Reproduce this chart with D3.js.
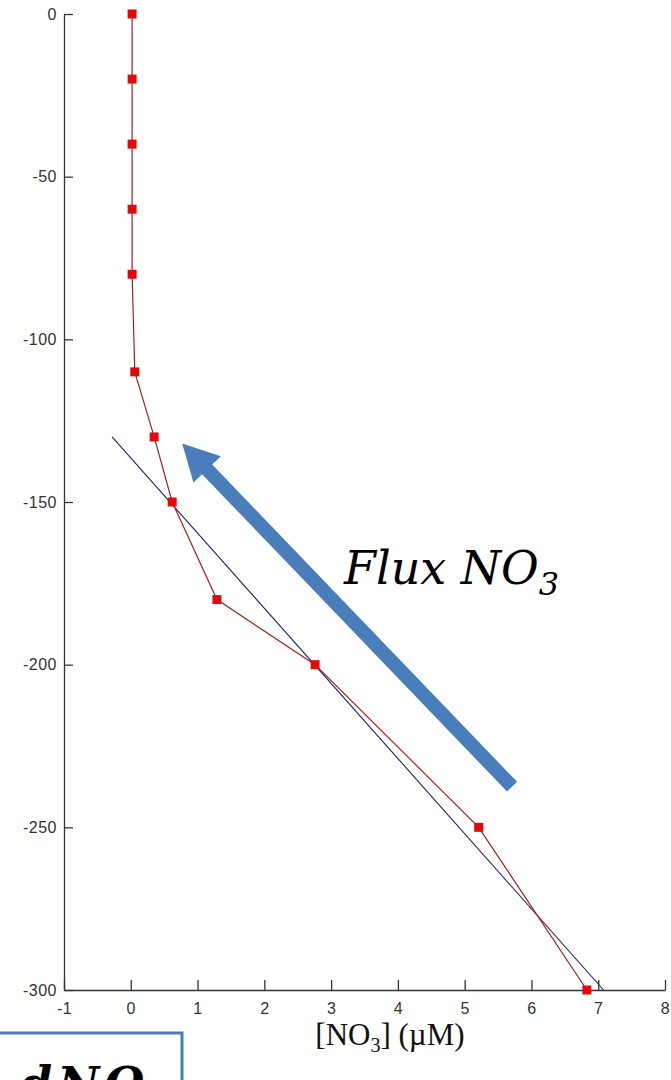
<!DOCTYPE html>
<html>
<head>
<meta charset="utf-8">
<script src="https://cdn.jsdelivr.net/npm/d3@7/dist/d3.min.js"></script>
<style>
  html, body { margin: 0; padding: 0; background: #fff; overflow: hidden; }
  svg { display: block; }
</style>
</head>
<body>
<svg id="chart" width="671" height="1080"></svg>
<script>
// Nitrate profile: concentration (µM) against depth (m)
const depth = [0, -20, -40, -60, -80, -110, -130, -150, -180, -200, -250, -300];
const nitrate = [0.02, 0.02, 0.02, 0.02, 0.02, 0.06, 0.35, 0.62, 1.29, 2.76, 5.21, 6.83];

// Linear fit through the nitracline
const fitNitrate = [-0.28, 7.08];
const fitDepth = [-130, -300];

// Axis ticks
const xTicks = [-1, 0, 1, 2, 3, 4, 5, 6, 7, 8];
const yTicks = [0, -50, -100, -150, -200, -250, -300];

// Flux arrow (data coordinates: tail -> head)
const arrowNitrate = [5.71, 0.77];
const arrowDepth = [-237.5, -132];

const svg = d3.select("#chart");

const x = d3.scaleLinear().domain([-1, 8]).range([64, 665]);
const y = d3.scaleLinear().domain([-300, 0]).range([990, 14]);

// Axes: MATLAB-style inward ticks
const xAxis = d3.axisBottom(x).tickValues(xTicks).tickFormat(d3.format("d"))
  .tickSizeInner(-10).tickSizeOuter(0).tickPadding(13);
const yAxis = d3.axisLeft(y).tickValues(yTicks).tickFormat(d3.format("d"))
  .tickSizeInner(-9).tickSizeOuter(0).tickPadding(7);

const gx = svg.append("g").attr("transform", `translate(0,${y(-300)})`).call(xAxis);
const gy = svg.append("g").attr("transform", `translate(${x(-1)},0)`).call(yAxis);
[gx, gy].forEach(g => {
  g.attr("font-family", "Arial, 'Liberation Sans', sans-serif").attr("font-size", 16);
  g.select(".domain").attr("stroke", "#333").attr("stroke-width", 1.3);
  g.selectAll(".tick line").attr("stroke", "#333").attr("stroke-width", 1.3);
  g.selectAll(".tick text")
    .attr("fill", "#333")
    .attr("letter-spacing", 0.5)
    .text(d => d < 0 ? "-" + Math.abs(d) : d);
});

// Fitted line
svg.append("path")
  .datum(fitNitrate.map((v, i) => [v, fitDepth[i]]))
  .attr("fill", "none")
  .attr("stroke", "#1d1f6b")
  .attr("stroke-width", 1.1)
  .attr("d", d3.line().x(d => x(d[0])).y(d => y(d[1])));

// Measured profile
const pts = nitrate.map((v, i) => [v, depth[i]]);
svg.append("path")
  .datum(pts)
  .attr("fill", "none")
  .attr("stroke", "#a3201c")
  .attr("stroke-width", 1.2)
  .attr("d", d3.line().x(d => x(d[0])).y(d => y(d[1])));

const ms = 9;
svg.selectAll("rect.marker").data(pts).join("rect")
  .attr("class", "marker")
  .attr("x", d => x(d[0]) - ms / 2)
  .attr("y", d => y(d[1]) - ms / 2)
  .attr("width", ms).attr("height", ms)
  .attr("fill", "#e10a0a");

// Flux arrow
(function drawArrow() {
  const x0 = x(arrowNitrate[0]), y0 = y(arrowDepth[0]);
  const x1 = x(arrowNitrate[1]), y1 = y(arrowDepth[1]);
  const dx = x1 - x0, dy = y1 - y0, L = Math.hypot(dx, dy);
  const ux = dx / L, uy = dy / L, nx = -uy, ny = ux;
  const shaft = 14, headW = 38, headL = 36;
  const bx = x1 - ux * headL, by = y1 - uy * headL;
  const p = [
    [x0 + nx * shaft / 2, y0 + ny * shaft / 2],
    [bx + nx * shaft / 2, by + ny * shaft / 2],
    [bx + nx * headW / 2, by + ny * headW / 2],
    [x1, y1],
    [bx - nx * headW / 2, by - ny * headW / 2],
    [bx - nx * shaft / 2, by - ny * shaft / 2],
    [x0 - nx * shaft / 2, y0 - ny * shaft / 2]
  ];
  svg.append("polygon")
    .attr("points", p.map(q => q.join(",")).join(" "))
    .attr("fill", "#4a7ebb");
})();

// Flux label
const flux = svg.append("text")
  .attr("x", 344).attr("y", 584)
  .attr("font-family", "'DejaVu Serif', serif")
  .attr("font-style", "italic")
  .attr("font-size", 46)
  .attr("fill", "#000");
flux.append("tspan").text("Flux NO");
flux.append("tspan").attr("font-size", 32).attr("dy", 11).text("3");

// X axis title
const xt = svg.append("text")
  .attr("x", 390).attr("y", 1045)
  .attr("text-anchor", "middle")
  .attr("font-family", "'Liberation Serif', 'Times New Roman', serif")
  .attr("font-size", 31)
  .attr("fill", "#111");
xt.append("tspan").text("[NO");
xt.append("tspan").attr("font-size", 20).attr("dy", 7).text("3");
xt.append("tspan").attr("dy", -7).text("] (\u00b5M)");

// Equation box at lower left
svg.append("rect")
  .attr("x", -6).attr("y", 1033)
  .attr("width", 188).attr("height", 70)
  .attr("fill", "#fff")
  .attr("stroke", "#4a7ebb").attr("stroke-width", 3);
svg.append("text")
  .attr("x", 20).attr("y", 1100)
  .attr("font-family", "'DejaVu Serif', serif")
  .attr("font-weight", "bold")
  .attr("font-style", "italic")
  .attr("font-size", 46)
  .attr("letter-spacing", 5)
  .attr("fill", "#000")
  .text("dNO\u2083");
</script>
</body>
</html>
